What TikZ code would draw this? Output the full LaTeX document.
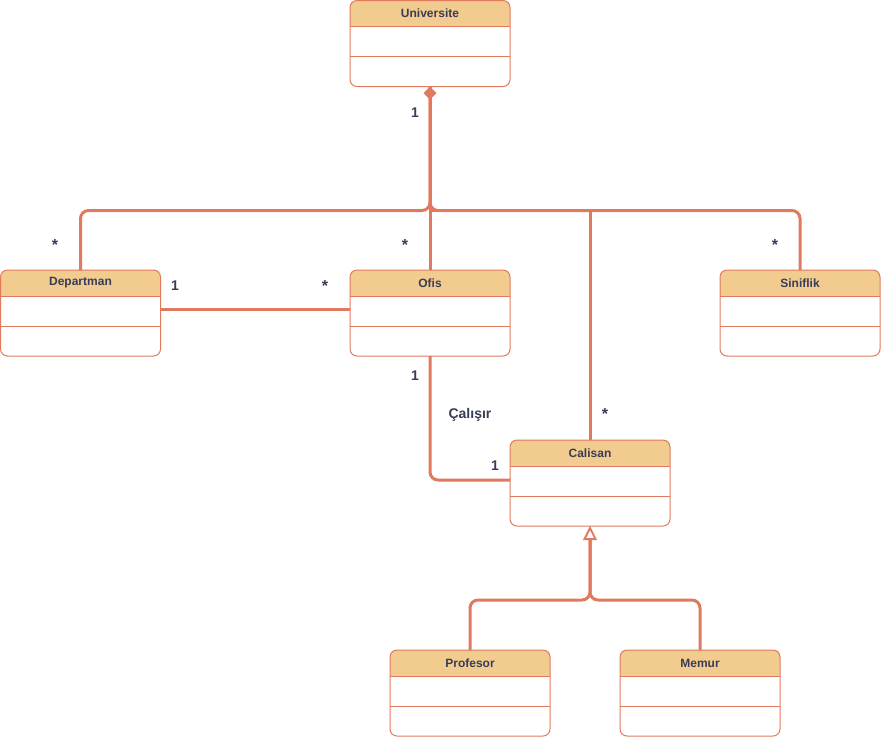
\documentclass[tikz,border=0pt]{standalone}
\usepackage{fontspec}
\setmainfont{Liberation Sans}
\usetikzlibrary{arrows.meta}
\definecolor{ocol}{HTML}{E07A5F}
\definecolor{hcol}{HTML}{F2CC8F}
\definecolor{tcol}{HTML}{393C56}
\tikzset{
  boxnode/.style={inner sep=0pt,outer sep=0pt,minimum width=160pt,minimum height=86pt},
  outline/.style={draw=ocol,line width=1pt,rounded corners=7pt},
  sepline/.style={draw=ocol,line width=1pt},
  hdrtext/.style={text=tcol,font=\fontsize{12}{14}\selectfont\bfseries},
  lbl/.style={text=tcol,font=\fontsize{14}{16}\selectfont\bfseries},
  conn/.style={draw=ocol,line width=3pt,rounded corners=8pt},
}
\newcommand\umlbox[4]{%
  \node[boxnode] (#1) at (#2+80,#3+43) {};
  \begin{scope}
    \clip[rounded corners=7pt] (#1.north west) rectangle (#1.south east);
    \fill[hcol] (#1.north west) rectangle ([yshift=-26pt]#1.north east);
  \end{scope}
  \draw[sepline] ([yshift=-26pt]#1.north west) -- ([yshift=-26pt]#1.north east);
  \draw[sepline] ([yshift=-56pt]#1.north west) -- ([yshift=-56pt]#1.north east);
  \draw[outline] (#1.north west) rectangle (#1.south east);
  \node[hdrtext] (#1t) at ([yshift=-13pt]#1.north) {#4};
}
\begin{document}
\begin{tikzpicture}[x=1pt,y=-1pt]
\useasboundingbox (0,0) rectangle (881,740);
\umlbox{u}{350}{0.5}{Universite}
\umlbox{d}{0.5}{270}{Departman}
\umlbox{o}{350}{270}{Ofis}
\umlbox{s}{720}{270}{Siniflik}
\umlbox{c}{510}{440}{Calisan}
\umlbox{p}{390}{650}{Profesor}
\umlbox{m}{620}{650}{Memur}

\draw[conn] (u.south) -- ++(0,124) -| (d.north);
\draw[conn] (u.south) -- ++(0,124) -| (s.north);
\draw[conn,sharp corners] (u.south) -- ++(0,124) -| (c.north);
\draw[conn] ([yshift=-10pt]u.south) -- (o.north);
\fill[ocol] (u.south) -- ++(6.5,6.5) -- ++(-6.5,6.5) -- ++(-6.5,-6.5) -- cycle;

\draw[conn] ([yshift=4pt]d.east) -- ([yshift=4pt]o.west);
\draw[conn] (o.south) |- ([yshift=3pt]c.west);

\draw[conn] (p.north) -- ++(0,-50) -| ([yshift=-12pt]c.south);
\draw[conn] (m.north) -- ++(0,-50) -| ([yshift=-12pt]c.south);
\draw[draw=ocol,line width=2pt,fill=white,line join=miter] (c.south) ++(0,2) -- ++(5.5,11) -- ++(-11,0) -- cycle;

\node[lbl] (l1) at (415,113) {1};
\node[lbl] (l2) at (55,245) {\fontsize{16}{16}\selectfont *};
\node[lbl] (l3) at (405,245) {\fontsize{16}{16}\selectfont *};
\node[lbl] (l4) at (775,245) {\fontsize{16}{16}\selectfont *};
\node[lbl] (l5) at (175,286) {1};
\node[lbl] (l6) at (325,286) {\fontsize{16}{16}\selectfont *};
\node[lbl] (l7) at (415,376) {1};
\node[lbl] (l8) at (470,415) {Çalışır};
\node[lbl] (l9) at (495,466) {1};
\node[lbl] (l10) at (605,414) {\fontsize{16}{16}\selectfont *};
\end{tikzpicture}
\end{document}
